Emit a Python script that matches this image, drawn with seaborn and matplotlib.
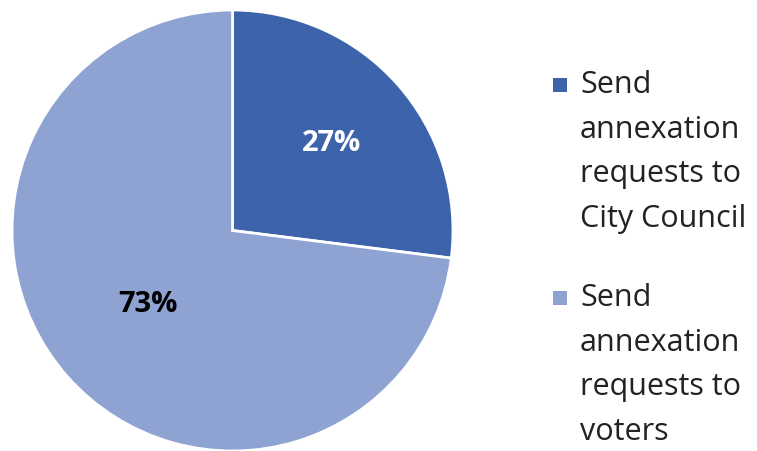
import matplotlib
matplotlib.use("Agg")
import matplotlib.pyplot as plt
from matplotlib.patches import Rectangle
import seaborn as sns

sns.set_theme(style="white")
plt.rcParams['font.family'] = ['Open Sans', 'DejaVu Sans']

categories = ["Send\nannexation\nrequests to\nCity Council",
              "Send\nannexation\nrequests to\nvoters"]
values = [27, 73]
colors = ["#3D64AB", "#8FA3D3"]
label_colors = ["white", "black"]

W, H = 757, 451
fig = plt.figure(figsize=(W / 100, H / 100), dpi=100)
r_px = 220.5
cx, cy = 232.5, 230.5
half = 1.01 * r_px
ax = fig.add_axes([(cx - half) / W, (H - cy - half) / H, 2 * half / W, 2 * half / H])

wedges, texts, autotexts = ax.pie(
    values, colors=colors, startangle=90, counterclock=False,
    autopct=lambda p: f"{p:.0f}%", pctdistance=0.6,
    wedgeprops=dict(edgecolor="white", linewidth=2),
    radius=1.0)
ax.set_xlim(-1.01, 1.01)
ax.set_ylim(-1.01, 1.01)
ax.set_aspect("equal")

for t, c in zip(autotexts, label_colors):
    t.set_color(c)
    t.set_fontsize(21)
    t.set_fontweight("bold")
x, y = autotexts[1].get_position()
autotexts[1].set_position((x * 0.85, y * 0.85))

# legend drawn manually (square aligned with first text line)
line_h = 44.7
block_top = [85, 298]
for i, (label, col) in enumerate(zip(categories, colors)):
    y0 = block_top[i]
    fig.patches.append(Rectangle((553 / W, (H - y0 - 7) / H), 14 / W, 14 / H,
                                 transform=fig.transFigure, facecolor=col,
                                 edgecolor="none"))
    for j, line in enumerate(label.split("\n")):
        fig.text(580 / W, (H - (y0 + j * line_h)) / H, line,
                 fontsize=22, color="#222222", va="center", ha="left")

fig.savefig("out.png", dpi=100)
